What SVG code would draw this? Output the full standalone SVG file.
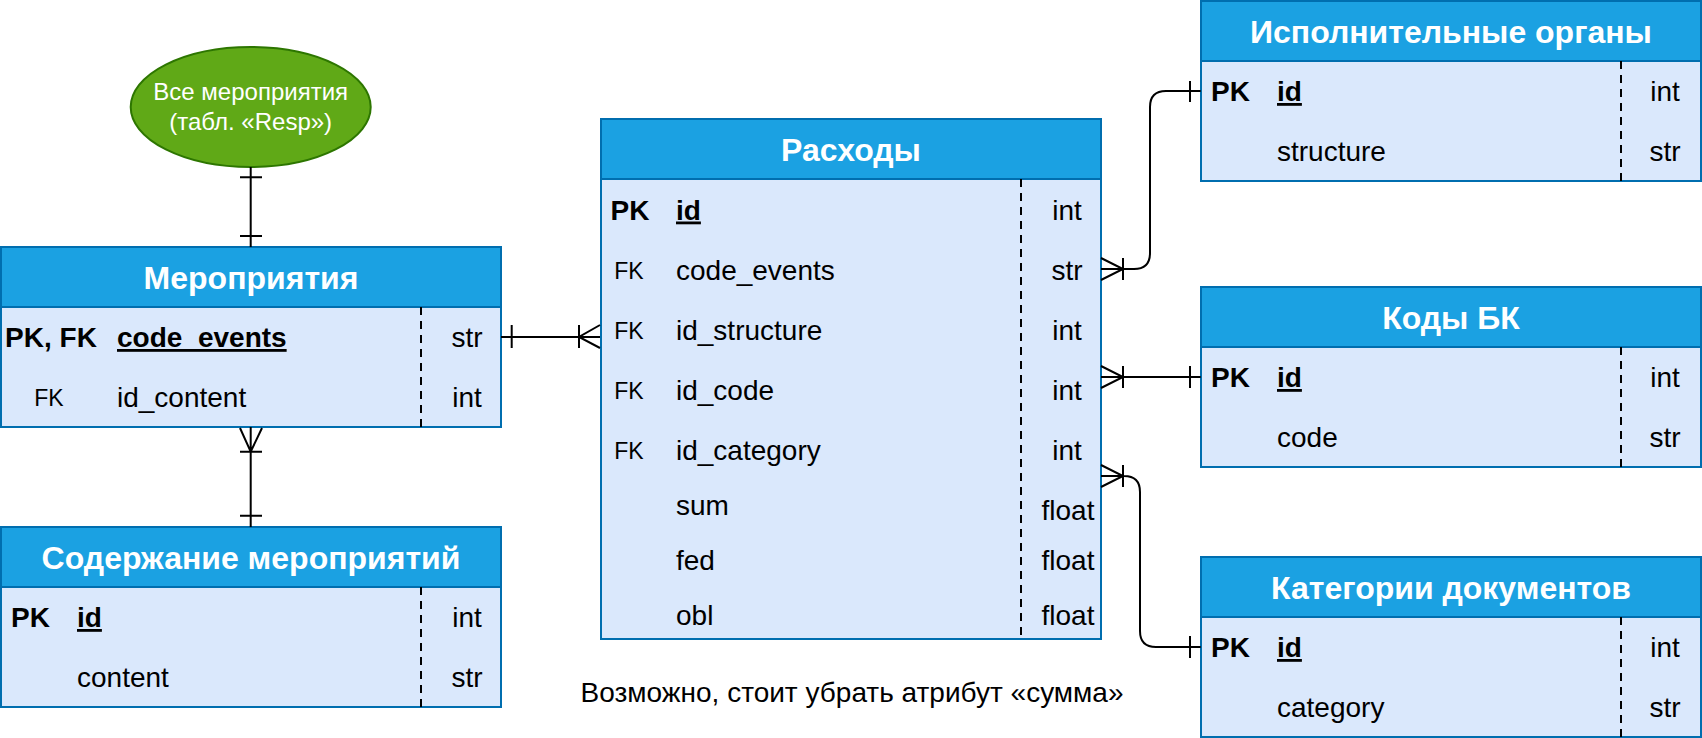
<svg xmlns="http://www.w3.org/2000/svg" width="1702" height="738" viewBox="0 0 1702 738">
<style>
text{font-family:"Liberation Sans",Arial,sans-serif;fill:#000}
.body{fill:#dae8fc;stroke:#006eaf;stroke-width:2}
.head{fill:#1ba1e2;stroke:#006eaf;stroke-width:2}
.title{font-size:32px;font-weight:bold;fill:#fff;text-anchor:middle}
.div{stroke:#000;stroke-width:2;stroke-dasharray:8 6}
.f{font-size:28px}
.b{font-weight:bold}
.u{text-decoration:underline}
.k{font-size:23px;text-anchor:middle}
.m{text-anchor:middle}
.c{fill:none;stroke:#000;stroke-width:2}
.w{font-size:24px;text-anchor:middle;fill:#fff}
</style>
<g id="all-events">
<ellipse cx="250.7" cy="107" rx="120" ry="60" fill="#60a917" stroke="#2d7600" stroke-width="2"/>
<text class="w" x="250.7" y="100">Все мероприятия</text>
<text class="w" x="250.7" y="130">(табл. «Resp»)</text>
</g>
<g id="events">
<rect class="body" x="1" y="247" width="500" height="180"/>
<rect class="head" x="1" y="247" width="500" height="60"/>
<text class="title" x="251" y="288.5">Мероприятия</text>
<line class="div" x1="421" y1="307" x2="421" y2="427"/>
<text class="f b m" x="51" y="347">PK, FK</text>
<text class="f b u" x="117" y="347">code_events</text>
<text class="f m" x="467" y="347">str</text>
<text class="k" x="49" y="406">FK</text>
<text class="f" x="117" y="407">id_content</text>
<text class="f m" x="467" y="407">int</text>
</g>
<g id="content">
<rect class="body" x="1" y="527" width="500" height="180"/>
<rect class="head" x="1" y="527" width="500" height="60"/>
<text class="title" x="251" y="568.5">Содержание мероприятий</text>
<line class="div" x1="421" y1="587" x2="421" y2="707"/>
<text class="f b m" x="30.5" y="627">PK</text>
<text class="f b u" x="77" y="627">id</text>
<text class="f m" x="467" y="627">int</text>
<text class="f" x="77" y="687">content</text>
<text class="f m" x="467" y="687">str</text>
</g>
<g id="expenses">
<rect class="body" x="601" y="119" width="500" height="520"/>
<rect class="head" x="601" y="119" width="500" height="60"/>
<text class="title" x="851" y="160.5">Расходы</text>
<line class="div" x1="1021" y1="179" x2="1021" y2="639"/>
<text class="f b m" x="630" y="219.5">PK</text>
<text class="f b u" x="676" y="219.5">id</text>
<text class="f m" x="1067" y="219.5">int</text>
<text class="k" x="629" y="278.5">FK</text>
<text class="f" x="676" y="279.5">code_events</text>
<text class="f m" x="1067" y="279.5">str</text>
<text class="k" x="629" y="338.5">FK</text>
<text class="f" x="676" y="339.5">id_structure</text>
<text class="f m" x="1067" y="339.5">int</text>
<text class="k" x="629" y="398.5">FK</text>
<text class="f" x="676" y="399.5">id_code</text>
<text class="f m" x="1067" y="399.5">int</text>
<text class="k" x="629" y="458.5">FK</text>
<text class="f" x="676" y="459.5">id_category</text>
<text class="f m" x="1067" y="459.5">int</text>
<text class="f" x="676" y="515">sum</text>
<text class="f m" x="1068" y="520">float</text>
<text class="f" x="676" y="570">fed</text>
<text class="f m" x="1068" y="570">float</text>
<text class="f" x="676" y="625">obl</text>
<text class="f m" x="1068" y="625">float</text>
</g>
<g id="executive">
<rect class="body" x="1201" y="1" width="500" height="180"/>
<rect class="head" x="1201" y="1" width="500" height="60"/>
<text class="title" x="1451" y="42.5">Исполнительные органы</text>
<line class="div" x1="1621" y1="61" x2="1621" y2="181"/>
<text class="f b m" x="1230.5" y="101">PK</text>
<text class="f b u" x="1277" y="101">id</text>
<text class="f m" x="1665" y="101">int</text>
<text class="f" x="1277" y="161">structure</text>
<text class="f m" x="1665" y="161">str</text>
</g>
<g id="codes">
<rect class="body" x="1201" y="287" width="500" height="180"/>
<rect class="head" x="1201" y="287" width="500" height="60"/>
<text class="title" x="1451" y="328.5">Коды БК</text>
<line class="div" x1="1621" y1="347" x2="1621" y2="467"/>
<text class="f b m" x="1230.5" y="387">PK</text>
<text class="f b u" x="1277" y="387">id</text>
<text class="f m" x="1665" y="387">int</text>
<text class="f" x="1277" y="447">code</text>
<text class="f m" x="1665" y="447">str</text>
</g>
<g id="categories">
<rect class="body" x="1201" y="557" width="500" height="180"/>
<rect class="head" x="1201" y="557" width="500" height="60"/>
<text class="title" x="1451" y="598.5">Категории документов</text>
<line class="div" x1="1621" y1="617" x2="1621" y2="737"/>
<text class="f b m" x="1230.5" y="657">PK</text>
<text class="f b u" x="1277" y="657">id</text>
<text class="f m" x="1665" y="657">int</text>
<text class="f" x="1277" y="717">category</text>
<text class="f m" x="1665" y="717">str</text>
</g>
<g id="note">
<text class="f m" x="852" y="702">Возможно, стоит убрать атрибут «сумма»</text>
</g>
<g id="connectors">
<path class="c" d="M250.7,167 V247 M240,177.3 H262 M240,236 H262"/>
<path class="c" d="M250.7,427 V527 M240,428 L250.7,451.7 L262,428 M240,451.7 H262 M240,515.7 H262"/>
<path class="c" d="M501,337 H600 M511.7,325 V348 M579,325 V348 M600,325 L579,337 L600,348"/>
<path class="c" d="M1101,269 H1134 Q1150,269 1150,253 V107 Q1150,91 1166,91 H1200.7 M1101,258 L1123,269 L1101,280 M1123,258 V280 M1190,81 V102"/>
<path class="c" d="M1101,377 H1200.7 M1101,366 L1123,377 L1101,388 M1123,366 V388 M1190,366 V388"/>
<path class="c" d="M1101,476 H1124 Q1140,476 1140,492 V631 Q1140,647 1156,647 H1200.7 M1101,465 L1123,476 L1101,487 M1123,465 V487 M1190,636 V658"/>
</g>
</svg>
